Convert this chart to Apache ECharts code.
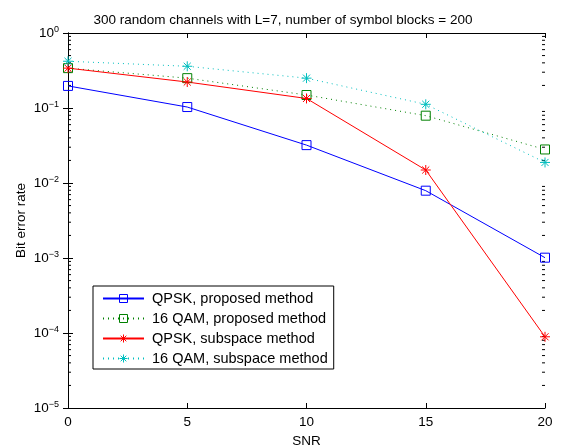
<!DOCTYPE html>
<html><head><meta charset="utf-8">
<script src="https://cdn.jsdelivr.net/npm/echarts@6/dist/echarts.min.js"></script>
<style>html,body{margin:0;padding:0;background:#fff}#c{width:566px;height:447px}</style>
</head><body><div id="c"></div>
<script>
const snr = [0, 5, 10, 15, 20];
const qpskProposed = [0.197, 0.103, 0.032, 0.0079, 0.00101];
const qam16Proposed = [0.34, 0.25, 0.149, 0.079, 0.028];
const qpskSubspace = [0.34, 0.222, 0.134, 0.0149, 0.000089];
const qam16Subspace = [0.42, 0.36, 0.25, 0.112, 0.0188];
const xTicks = [0, 5, 10, 15, 20];
const yDecades = [1e-5, 1e-4, 1e-3, 1e-2, 1e-1, 1];
const minorMult = [2, 3, 4, 5, 6, 7, 8, 9];
const seriesNames = ['QPSK, proposed method', '16 QAM, proposed method', 'QPSK, subspace method', '16 QAM, subspace method'];

const FONT = 'Liberation Sans, Arial, Helvetica, sans-serif';
const star = 'path://M0,-10L0,10M-10,0L10,0M-7.07,-7.07L7.07,7.07M-7.07,7.07L7.07,-7.07';

const minorVals = [];
yDecades.slice(0, -1).forEach(d => minorMult.forEach(m => minorVals.push(d * m)));

function pair(xs, ys) { return xs.map((x, i) => [x, ys[i]]); }
function supLabel(v) {
  const e = Math.round(Math.log10(v));
  return '{b|10}{s|' + (e < 0 ? '\u2212' + (-e) : e) + '}';
}

const chart = echarts.init(document.getElementById('c'), null, {renderer: 'canvas'});
const xMin = xTicks[0], xMax = xTicks[xTicks.length - 1];

function mkSeries(name, data, color, dotted, sym, symSize) {
  return {
    name, type: 'line', data, xAxisIndex: 0, yAxisIndex: 0,
    symbol: sym, symbolSize: symSize, showAllSymbol: true,
    lineStyle: {color, width: 1, type: dotted ? [1, 4] : 'solid'},
    itemStyle: {color: 'rgba(0,0,0,0)', borderColor: color, borderWidth: 1},
    emphasis: {disabled: true}, animation: false, z: 3
  };
}

const option = {
  animation: false,
  backgroundColor: '#fff',
  title: {
    text: '300 random channels with L=7, number of symbol blocks = 200',
    left: 278, top: 8, textAlign: 'center',
    textStyle: {fontFamily: FONT, fontSize: 13.5, fontWeight: 'normal', color: '#000'}
  },
  grid: {left: 68, right: 21, top: 33, bottom: 39, containLabel: false, outerBoundsMode: 'none'},
  legend: {
    orient: 'vertical', left: 93, top: 286,
    data: seriesNames,
    itemWidth: 41, itemHeight: 10, itemGap: 5,
    padding: [5, 6, 3, 9],
    borderColor: '#000', borderWidth: 1, backgroundColor: '#fff', borderRadius: 0,
    textStyle: {fontFamily: FONT, fontSize: 14.5, color: '#000', lineHeight: 14, padding: [0, 0, 0, 3]},
    itemStyle: {borderWidth: 1},
    selectedMode: false
  },
  xAxis: [{
    type: 'value', min: xMin, max: xMax, interval: 5, position: 'bottom',
    name: 'SNR', nameLocation: 'middle', nameGap: 20,
    nameTextStyle: {fontFamily: FONT, fontSize: 13.5, color: '#000'},
    axisLine: {lineStyle: {color: '#000', width: 1}},
    axisTick: {inside: true, length: 5, lineStyle: {color: '#000'}},
    axisLabel: {fontFamily: FONT, fontSize: 13.5, color: '#000', margin: 7},
    splitLine: {show: false}
  }, {
    type: 'value', min: xMin, max: xMax, interval: 5, position: 'top',
    axisLine: {lineStyle: {color: '#000', width: 1}},
    axisTick: {inside: true, length: 5, lineStyle: {color: '#000'}},
    axisLabel: {show: false}, splitLine: {show: false}
  }],
  yAxis: [{
    type: 'log', logBase: 10, min: 1e-5, max: 1, position: 'left',
    name: 'Bit error rate', nameLocation: 'middle', nameGap: 40, nameMoveOverlap: false,
    nameTextStyle: {fontFamily: FONT, fontSize: 13.5, color: '#000'},
    axisLine: {lineStyle: {color: '#000', width: 1}},
    axisTick: {inside: true, length: 5, lineStyle: {color: '#000'}},
    axisLabel: {
      margin: 9, formatter: supLabel,
      rich: {
        b: {fontFamily: FONT, fontSize: 13.5, color: '#000', verticalAlign: 'bottom', lineHeight: 14},
        s: {fontFamily: FONT, fontSize: 9, color: '#000', verticalAlign: 'bottom', lineHeight: 9, padding: [0, 0, 6, 0]}
      }
    },
    splitLine: {show: false}
  }, {
    type: 'log', logBase: 10, min: 1e-5, max: 1, position: 'right',
    axisLine: {lineStyle: {color: '#000', width: 1}},
    axisTick: {inside: true, length: 5, lineStyle: {color: '#000'}},
    axisLabel: {show: false}, splitLine: {show: false}
  }],
  series: [
    mkSeries(seriesNames[0], pair(snr, qpskProposed), '#0000ff', false, 'rect', 9),
    mkSeries(seriesNames[1], pair(snr, qam16Proposed), '#008000', true, 'rect', 9),
    mkSeries(seriesNames[2], pair(snr, qpskSubspace), '#ff0000', false, star, 10),
    mkSeries(seriesNames[3], pair(snr, qam16Subspace), '#00bfbf', true, star, 10),
    {
      type: 'custom', silent: true, z: 1, animation: false,
      data: minorVals.map(v => [xMin, v]),
      renderItem: function (params, api) {
        const v = api.value(1);
        const l = api.coord([xMin, v]);
        const r = api.coord([xMax, v]);
        return {type: 'group', children: [
          {type: 'line', shape: {x1: l[0], y1: l[1], x2: l[0] + 3, y2: l[1]}, style: {stroke: '#000', lineWidth: 1}},
          {type: 'line', shape: {x1: r[0], y1: r[1], x2: r[0] - 3, y2: r[1]}, style: {stroke: '#000', lineWidth: 1}}
        ]};
      }
    }
  ]
};
chart.setOption(option);
</script></body></html>
